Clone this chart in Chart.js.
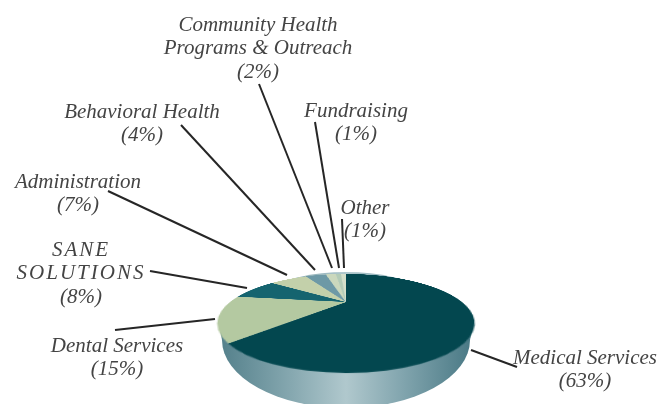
<!DOCTYPE html>
<html>
<head>
<meta charset="utf-8">
<style>
  html, body { margin: 0; background: #fff; }
  #stage { position: relative; width: 668px; height: 404px; overflow: hidden; }
  #base { position: absolute; left: 0; top: 0; }
  /* tilted pie, the perspective gives the off centre apex of the reference */
  #top { position: absolute; left: 216px; top: 172px; transform: perspective(251px) rotateX(69.7deg); }
</style>
<script src="https://cdn.jsdelivr.net/npm/chart.js@4"></script>
</head>
<body>
<div id="stage">
  <canvas id="base" width="668" height="404"></canvas>
  <canvas id="top" width="260" height="260"></canvas>
</div>
<script>
const categories = ['Medical Services', 'Dental Services', 'SANE SOLUTIONS', 'Administration',
  'Behavioral Health', 'Community Health Programs & Outreach', 'Fundraising', 'Other'];
const shares = [63, 15, 8, 7, 4, 2, 1, 1];
const sliceColors = ['#03474f', '#b4c9a1', '#15646f', '#c3d0aa', '#6d99a6', '#cbd8bd', '#b3cbb6', '#d5dfca'];

// how each label breaks over lines, same order as categories
const labelLines = [
  ['Medical Services'], ['Dental Services'], ['SANE', 'SOLUTIONS'], ['Administration'],
  ['Behavioral Health'], ['Community Health', 'Programs & Outreach'], ['Fundraising'], ['Other']
];
// label centre x, first line y
const labelPos = [[585, 358], [117, 346], [81, 250], [78, 182], [142, 112], [258, 25], [356, 111], [365, 208]];
// leader lines x1, y1, x2, y2
const leaders = [
  [471, 350, 517, 367], [115, 330, 215, 319], [150, 271, 247, 288], [108, 191, 287, 275],
  [181, 125, 315, 270], [259, 84, 332, 268], [315, 122, 339, 268], [342, 219, 344, 268]
];

const labelsPlugin = {
  id: 'labelsPlugin',
  beforeDraw(chart) {
    const ctx = chart.ctx;
    // side wall of the pie
    const grad = ctx.createLinearGradient(222, 0, 470, 0);
    grad.addColorStop(0, '#55818c');
    grad.addColorStop(0.28, '#86a8b0');
    grad.addColorStop(0.5, '#b0c8cd');
    grad.addColorStop(0.72, '#83a6af');
    grad.addColorStop(1, '#4b7a86');
    ctx.save();
    ctx.fillStyle = grad;
    ctx.beginPath();
    ctx.ellipse(346, 340, 124, 68, 0, 0, Math.PI * 2);
    ctx.fill();
    ctx.beginPath();
    ctx.moveTo(219, 325);
    ctx.lineTo(222, 340);
    ctx.lineTo(470, 340);
    ctx.lineTo(473, 325);
    ctx.closePath();
    ctx.fill();
    ctx.restore();
  },
  afterDraw(chart) {
    const ctx = chart.ctx;
    ctx.save();
    ctx.strokeStyle = '#262626';
    ctx.lineWidth = 2;
    leaders.forEach(l => {
      ctx.beginPath();
      ctx.moveTo(l[0], l[1]);
      ctx.lineTo(l[2], l[3]);
      ctx.stroke();
    });
    ctx.fillStyle = '#444';
    ctx.font = 'italic 21px "Liberation Serif"';
    ctx.textAlign = 'center';
    ctx.textBaseline = 'middle';
    categories.forEach((c, i) => {
      const lines = labelLines[i].concat('(' + shares[i] + '%)');
      lines.forEach((t, n) => {
        // the capitals are set wider in the reference
        ctx.letterSpacing = t === t.toUpperCase() && t[0] !== '(' ? '2px' : '0px';
        ctx.fillText(t, labelPos[i][0], labelPos[i][1] + n * 23.5);
      });
    });
    ctx.restore();
  }
};

new Chart(document.getElementById('base'), {
  type: 'pie',
  data: { labels: [], datasets: [] },
  options: {
    responsive: false,
    animation: false,
    plugins: { legend: { display: false }, tooltip: { enabled: false } }
  },
  plugins: [labelsPlugin]
});

new Chart(document.getElementById('top'), {
  type: 'pie',
  data: {
    labels: categories,
    datasets: [{ data: shares, backgroundColor: sliceColors, borderWidth: 0 }]
  },
  options: {
    responsive: false,
    animation: false,
    layout: { padding: 14 },
    plugins: { legend: { display: false }, tooltip: { enabled: false } }
  }
});
</script>
</body>
</html>
